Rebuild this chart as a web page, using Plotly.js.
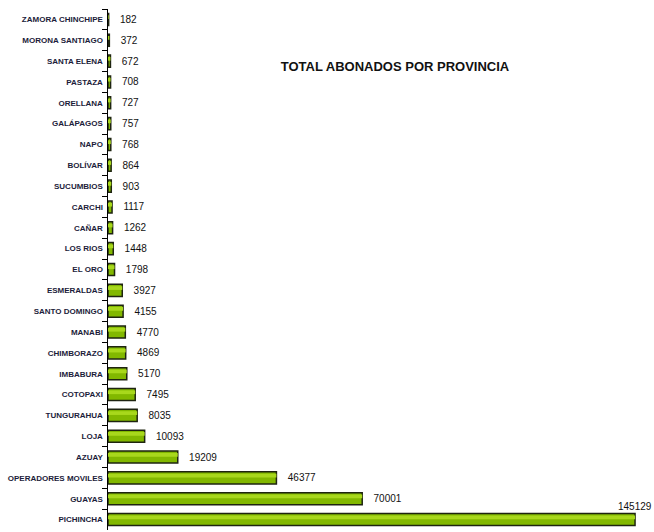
<!DOCTYPE html>
<html>
<head>
<meta charset="utf-8">
<script src="https://cdn.plot.ly/plotly-3.0.1.min.js"></script>
<style>html,body{margin:0;padding:0;background:#fff;}#chart{width:654px;height:532px;}</style>
</head>
<body>
<div id="chart"></div>
<script>
const provincias = ["ZAMORA CHINCHIPE","MORONA SANTIAGO","SANTA ELENA","PASTAZA","ORELLANA","GALÁPAGOS","NAPO","BOLÍVAR","SUCUMBIOS","CARCHI","CAÑAR","LOS RIOS","EL ORO","ESMERALDAS","SANTO DOMINGO","MANABI","CHIMBORAZO","IMBABURA","COTOPAXI","TUNGURAHUA","LOJA","AZUAY","OPERADORES MOVILES","GUAYAS","PICHINCHA"];
const abonados = [182,372,672,708,727,757,768,864,903,1117,1262,1448,1798,3927,4155,4770,4869,5170,7495,8035,10093,19209,46377,70001,145129];
const titulo = "TOTAL ABONADOS POR PROVINCIA";

const last = abonados.length - 1;
const valueFont = {family: "Liberation Sans, Arial", size: 10, color: "#111"};

const traces = [
  {
    type: "bar", orientation: "h",
    y: provincias, x: abonados,
    width: 0.58,
    marker: {color: "#82b800", line: {color: "#1e2410", width: 1.5}},
    text: abonados.map((v, i) => i === last ? "" : String(v)),
    texttemplate: "   %{text}",
    textposition: "outside",
    cliponaxis: false,
    textfont: valueFont,
    hoverinfo: "skip"
  },
  {
    type: "bar", orientation: "h",
    y: provincias, x: abonados,
    width: 0.18, offset: -0.2,
    marker: {color: "#a8d81c", line: {width: 0}},
    hoverinfo: "skip"
  }
];

const layout = {
  width: 654, height: 532,
  margin: {l: 108, r: 2, t: 9, b: 2, autoexpand: false},
  paper_bgcolor: "#fff", plot_bgcolor: "#fff",
  showlegend: false,
  barmode: "overlay",
  title: {
    text: "<b>" + titulo + "</b>",
    font: {family: "Liberation Sans, Arial", size: 13, color: "#111"},
    x: 0.604, xanchor: "center", xref: "container",
    y: 0.876, yanchor: "middle", yref: "container"
  },
  annotations: [{
    x: abonados[last], y: provincias[last], xref: "x", yref: "y",
    text: String(abonados[last]), showarrow: false,
    xanchor: "center", yanchor: "bottom", yshift: 6,
    font: valueFont
  }],
  xaxis: {range: [0, 149800], visible: false, showgrid: false, zeroline: false, fixedrange: true, automargin: false},
  yaxis: {
    type: "category", range: [provincias.length - 0.5, -0.5], automargin: false,
    showline: true, linecolor: "#000", linewidth: 1.5,
    ticks: "outside", tickson: "boundaries", ticklen: 5, tickcolor: "#000", tickwidth: 1,
    ticklabelstandoff: 2,
    tickfont: {family: "Liberation Sans, Arial", size: 8, color: "#1c1c3a", weight: "bold"},
    showgrid: false, zeroline: false, fixedrange: true
  }
};

Plotly.newPlot("chart", traces, layout, {displayModeBar: false, staticPlot: true});
</script>
</body>
</html>
